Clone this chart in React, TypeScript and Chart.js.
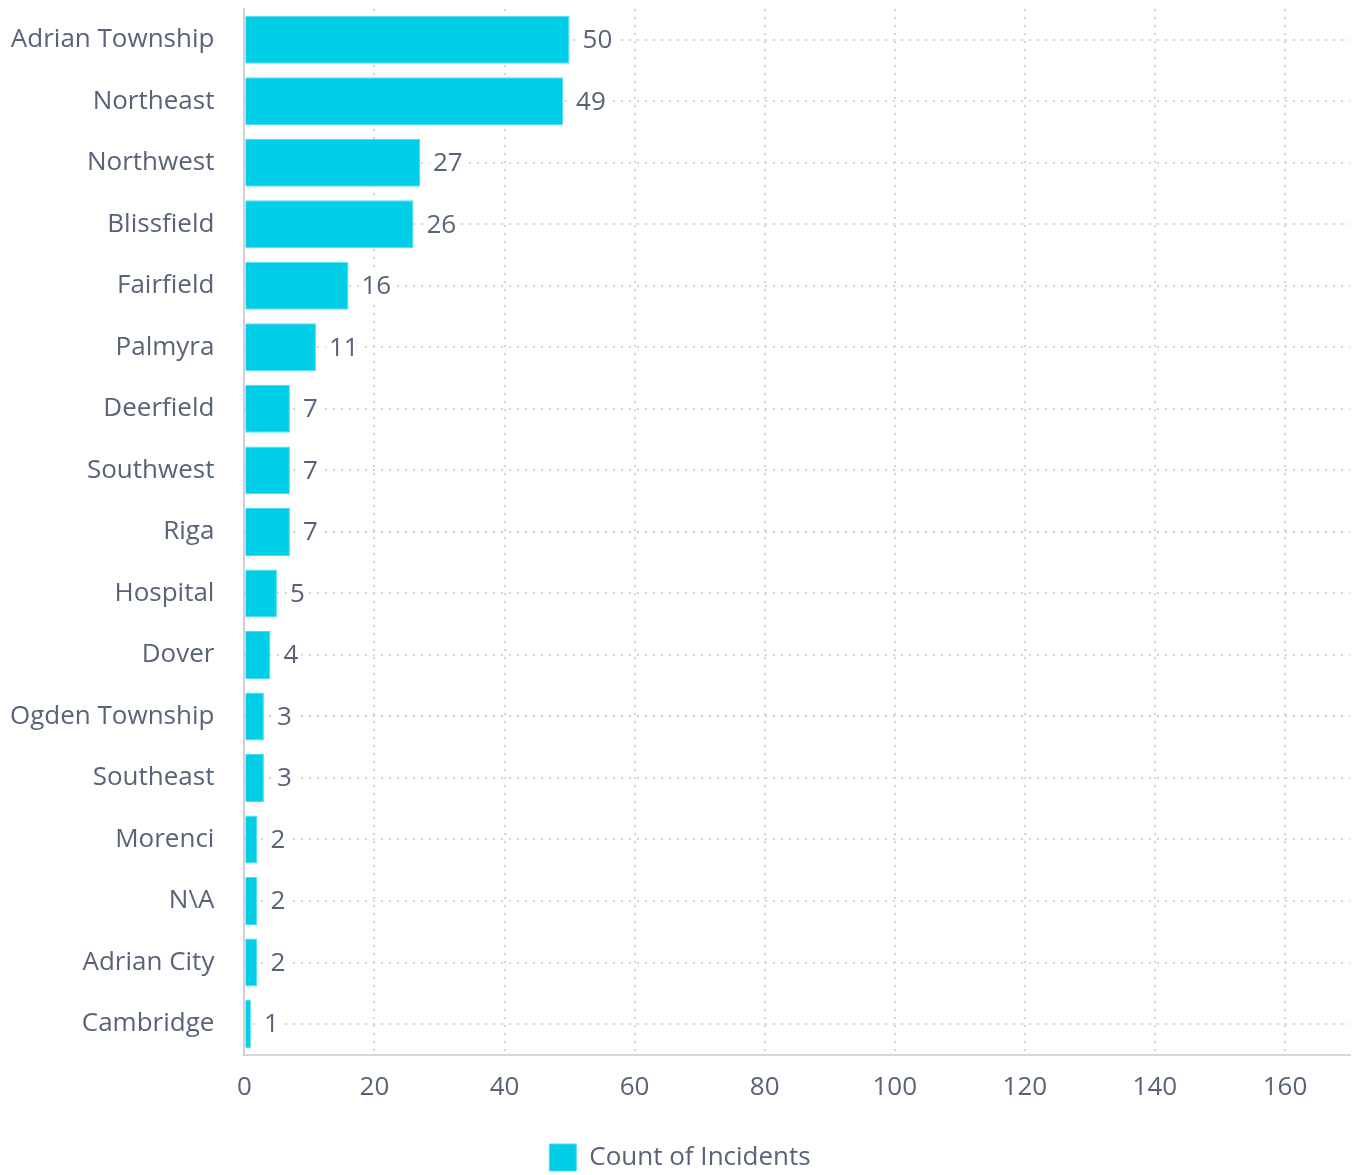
import { useEffect, useRef } from 'react';
import { Chart, registerables } from 'chart.js';

Chart.register(...registerables);

const areas = [
  'Adrian Township',
  'Northeast',
  'Northwest',
  'Blissfield',
  'Fairfield',
  'Palmyra',
  'Deerfield',
  'Southwest',
  'Riga',
  'Hospital',
  'Dover',
  'Ogden Township',
  'Southeast',
  'Morenci',
  'N\\A',
  'Adrian City',
  'Cambridge',
];
const incidentCounts = [50, 49, 27, 26, 16, 11, 7, 7, 7, 5, 4, 3, 3, 2, 2, 2, 1];
const axisMax = 170;
const axisStep = 20;

const TEXT = '#596377';
const FONT = "'Open Sans'";
const SIZE = 26;
const Y_PAD = 30;

// value labels at the end of each bar, on a small white patch so the dotted grid stops round them
const valueLabels = {
  id: 'valueLabels',
  afterDatasetsDraw(chart: Chart) {
    const ctx = chart.ctx;
    ctx.save();
    ctx.font = `${SIZE}px ${FONT}`;
    ctx.textAlign = 'left';
    ctx.textBaseline = 'middle';
    chart.data.datasets.forEach((ds, i) => {
      chart.getDatasetMeta(i).data.forEach((bar: any, j) => {
        const text = String(ds.data[j]);
        const w = ctx.measureText(text).width;
        const x = bar.x + 13;
        ctx.fillStyle = '#ffffff';
        ctx.fillRect(x - 3, bar.y - 14, w + 6, 28);
        ctx.fillStyle = TEXT;
        ctx.fillText(text, x, bar.y + 1);
      });
    });
    ctx.restore();
  },
};

function IncidentChart() {
  const canvasRef = useRef<HTMLCanvasElement>(null);

  useEffect(() => {
    if (!canvasRef.current) return;
    document.documentElement.style.overflow = 'hidden';

    const chart = new Chart(canvasRef.current, {
      type: 'bar',
      data: {
        labels: areas,
        datasets: [
          {
            label: 'Count of Incidents',
            data: incidentCounts,
            backgroundColor: '#00cee6',
            borderColor: '#4ddcee',
            borderWidth: 1,
            categoryPercentage: 1,
            barPercentage: 0.78,
          },
        ],
      },
      options: {
        indexAxis: 'y',
        animation: false,
        responsive: true,
        maintainAspectRatio: false,
        layout: { autoPadding: false, padding: { top: 1, left: 2, right: 1, bottom: 0 } },
        plugins: {
          legend: {
            position: 'bottom',
            labels: {
              color: TEXT,
              font: { family: FONT, size: SIZE },
              boxWidth: 27,
              boxHeight: 27,
              padding: 24,
            },
          },
          tooltip: { enabled: false },
        },
        scales: {
          x: {
            min: 0,
            max: axisMax,
            grid: { color: '#d4d4d8', lineWidth: 2, drawTicks: false },
            border: { display: true, color: '#d6d6de', width: 2, dash: [2, 6] },
            ticks: {
              stepSize: axisStep,
              includeBounds: false,
              padding: 17,
              color: TEXT,
              font: { family: FONT, size: SIZE },
            },
          },
          y: {
            grid: { color: '#d4d4d8', lineWidth: 2, offset: false, drawTicks: false },
            border: { display: true, color: '#cfcfd6', width: 2, dash: [2, 6] },
            ticks: {
              padding: Y_PAD,
              color: TEXT,
              font: { family: FONT, size: SIZE },
            },
            // Chart.js reserves the tick padding on both sides and above/below; keep only the inner gap
            afterFit(scale: any) {
              scale.width -= Y_PAD;
              scale.paddingTop = 0;
              scale.paddingBottom = 0;
            },
          },
        },
      },
      plugins: [valueLabels],
    });

    return () => {
      chart.destroy();
    };
  }, []);

  return (
    <div style={{ position: 'relative', width: 1343, height: 1173 }}>
      <canvas ref={canvasRef}></canvas>
    </div>
  );
}

export default function App() {
  return <IncidentChart />;
}
